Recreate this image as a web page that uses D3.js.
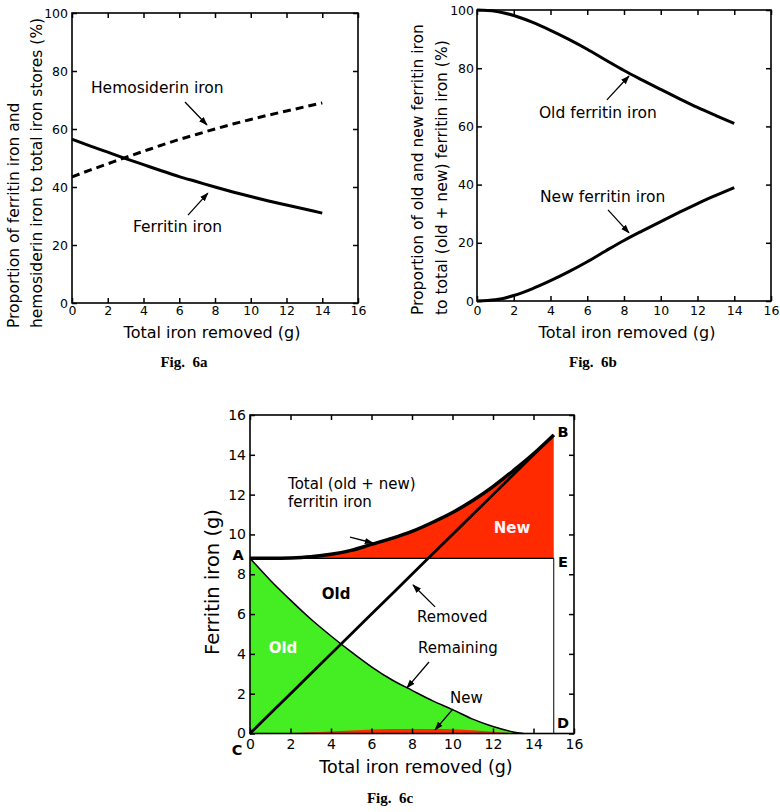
<!DOCTYPE html>
<html>
<head>
<meta charset="utf-8">
<script src="https://cdn.jsdelivr.net/npm/d3@7"></script>
<style>
  html, body { margin: 0; padding: 0; background: #fff; }
  svg { display: block; }
  text { font-family: "DejaVu Sans", Verdana, sans-serif; }
  .fig { font-family: "Liberation Serif", "Times New Roman", serif; font-weight: bold; white-space: pre; }
</style>
</head>
<body>
<svg id="chart" width="780" height="812"></svg>
<script>
// ---------- DATA ----------
// Fig 6a / 6b: x = total iron removed (g)
const removedA = [0, 1, 2, 3, 4, 5, 6, 7, 8, 9, 10, 11, 12, 13, 14];
const ferritinPct = [56.5, 54.2, 52.0, 49.8, 47.7, 45.6, 43.6, 41.8, 40.0, 38.3, 36.7, 35.2, 33.8, 32.4, 31.0];
const hemosiderinPct = [43.5, 45.8, 48.0, 50.2, 52.3, 54.4, 56.4, 58.2, 60.0, 61.7, 63.3, 64.8, 66.2, 67.6, 69.0];
const oldFerritinPct = [100, 99.6, 98.1, 95.8, 93.0, 89.9, 86.5, 82.8, 79.2, 75.9, 72.7, 69.55, 66.5, 63.7, 61.0];
const newFerritinPct = [0, 0.4, 1.9, 4.2, 7.0, 10.1, 13.5, 17.2, 20.8, 24.1, 27.3, 30.45, 33.5, 36.3, 39.0];

// Fig 6c
const removedC = [0, 1, 2, 3, 4, 5, 6, 7, 8, 9, 10, 11, 12, 13, 14, 15];
const totalFerritin = [8.8, 8.8, 8.82, 8.88, 9.0, 9.2, 9.5, 9.8, 10.15, 10.6, 11.1, 11.7, 12.4, 13.2, 14.05, 15.0];
const removedIron = [0, 1, 2, 3, 4, 5, 6, 7, 8, 9, 10, 11, 12, 13, 14, 15];
const remainX = [0, 1, 2, 3, 4, 5, 6, 7, 8, 9, 10, 11, 12, 13, 13.5];
const remainingOld = [8.8, 7.7, 6.7, 5.75, 4.9, 4.1, 3.35, 2.7, 2.17, 1.65, 1.2, 0.72, 0.35, 0.08, 0];
const newX = [0, 1, 2, 3, 4, 5, 6, 7, 8, 9, 10, 11, 12, 13, 14];
const remainingNew = [0, 0, 0.02, 0.06, 0.1, 0.15, 0.2, 0.22, 0.23, 0.23, 0.21, 0.16, 0.09, 0.02, 0];
const pointLabels = ["A", "B", "C", "D", "E"];

// Tick values
const xTickVals = [0, 2, 4, 6, 8, 10, 12, 14, 16];
const pctTickVals = [0, 20, 40, 60, 80, 100];
const gTickVals = [0, 2, 4, 6, 8, 10, 12, 14, 16];

// ---------- DRAW ----------
const svg = d3.select("#chart");
svg.append("rect").attr("width", 780).attr("height", 812).attr("fill", "#fff");

const defs = svg.append("defs");
defs.append("marker").attr("id", "arrow")
  .attr("viewBox", "0 0 10 10").attr("refX", 9).attr("refY", 5)
  .attr("markerWidth", 9).attr("markerHeight", 9).attr("markerUnits", "userSpaceOnUse")
  .attr("orient", "auto")
  .append("path").attr("d", "M0,1.5 L10,5 L0,8.5 Z").attr("fill", "#000");

function frame(g, x, y, opts) {
  const fs = opts.tickFont;
  const axB = d3.axisBottom(x).tickValues(xTickVals).tickSizeInner(-5).tickSizeOuter(0).tickPadding(opts.padX);
  const axL = d3.axisLeft(y).tickValues(opts.yTicks).tickSizeInner(-5).tickSizeOuter(0).tickPadding(opts.padY);
  const axT = d3.axisTop(x).tickValues(xTickVals).tickSizeInner(-5).tickSizeOuter(0).tickFormat("");
  const axR = d3.axisRight(y).tickValues(opts.yTicks).tickSizeInner(-5).tickSizeOuter(0).tickFormat("");
  const [x0, x1] = x.range(); const [y0, y1] = y.range();
  const sets = [
    [axB, `translate(0,${y0})`], [axL, `translate(${x0},0)`],
    [axT, `translate(0,${y1})`], [axR, `translate(${x1},0)`]
  ];
  sets.forEach(([ax, tr]) => {
    const a = g.append("g").attr("transform", tr).call(ax);
    a.select(".domain").remove();
    a.selectAll("line").attr("stroke", "#000").attr("stroke-width", 1.5);
    a.selectAll("text").style("font-family", '"DejaVu Sans", sans-serif').style("font-size", fs + "px").style("fill", "#000");
  });
  g.append("rect").attr("x", x0).attr("y", y1).attr("width", x1 - x0).attr("height", y0 - y1)
    .attr("fill", "none").attr("stroke", "#000").attr("stroke-width", 1.6);
}

function arrow(g, x, y, p0, p1, w) {
  g.append("line")
    .attr("x1", x(p0[0])).attr("y1", y(p0[1]))
    .attr("x2", x(p1[0])).attr("y2", y(p1[1]))
    .attr("stroke", "#000").attr("stroke-width", w || 1.3)
    .attr("marker-end", "url(#arrow)");
}

function label(g, x, y, pos, txt, fs, anchor, extra) {
  const t = g.append("text").attr("x", x(pos[0])).attr("y", y(pos[1]))
    .attr("dominant-baseline", "central")
    .attr("text-anchor", anchor || "start")
    .style("font-size", fs + "px").style("fill", "#000").text(txt);
  if (extra) extra(t);
  return t;
}

// ===== Fig 6a =====
{
  const g = svg.append("g");
  const x = d3.scaleLinear().domain([0, 16]).range([72, 358]);
  const y = d3.scaleLinear().domain([0, 100]).range([303, 13]);
  const ferr = removedA.map((d, i) => [d, ferritinPct[i]]);
  const hemo = removedA.map((d, i) => [d, hemosiderinPct[i]]);
  const line = d3.line().x(d => x(d[0])).y(d => y(d[1])).curve(d3.curveMonotoneX);
  g.append("path").attr("d", line(hemo)).attr("fill", "none").attr("stroke", "#000")
    .attr("stroke-width", 3).attr("stroke-dasharray", "8,5");
  g.append("path").attr("d", line(ferr)).attr("fill", "none").attr("stroke", "#000").attr("stroke-width", 3);
  frame(g, x, y, { yTicks: pctTickVals, tickFont: 12.5, padX: 3, padY: 4 });
  label(g, x, y, [1.06, 74.1], "Hemosiderin iron", 15.5);
  label(g, x, y, [3.41, 26.2], "Ferritin iron", 15.5);
  arrow(g, x, y, [6.32, 69.3], [7.55, 61.4]);
  arrow(g, x, y, [6.49, 30.3], [7.6, 37.9]);
  g.append("text").attr("x", 212).attr("y", 332).attr("text-anchor", "middle").attr("dominant-baseline", "central")
    .style("font-size", "16px").text("Total iron removed (g)");
  const yt = g.append("g").attr("transform", "translate(0,328) rotate(-90)");
  yt.append("text").attr("x", 0).attr("y", 14).attr("dominant-baseline", "central").style("font-size", "15.5px")
    .text("Proportion of ferritin iron and");
  yt.append("text").attr("x", 0).attr("y", 37).attr("dominant-baseline", "central").style("font-size", "15.5px")
    .text("hemosiderin iron to total iron stores (%)");
  g.append("text").attr("class", "fig").attr("x", 184).attr("y", 362).attr("text-anchor", "middle")
    .attr("dominant-baseline", "central").style("font-size", "15px").text("Fig.  6a");
}

// ===== Fig 6b =====
{
  const g = svg.append("g");
  const x = d3.scaleLinear().domain([0, 16]).range([477, 771]);
  const y = d3.scaleLinear().domain([0, 100]).range([301, 10]);
  const oldL = removedA.map((d, i) => [d, oldFerritinPct[i]]);
  const newL = removedA.map((d, i) => [d, newFerritinPct[i]]);
  const line = d3.line().x(d => x(d[0])).y(d => y(d[1])).curve(d3.curveMonotoneX);
  g.append("path").attr("d", line(oldL)).attr("fill", "none").attr("stroke", "#000").attr("stroke-width", 3);
  g.append("path").attr("d", line(newL)).attr("fill", "none").attr("stroke", "#000").attr("stroke-width", 3);
  frame(g, x, y, { yTicks: pctTickVals, tickFont: 12.5, padX: 5, padY: 3 });
  label(g, x, y, [3.37, 64.6], "Old ferritin iron", 15.5);
  label(g, x, y, [3.43, 35.7], "New ferritin iron", 15.5);
  arrow(g, x, y, [7.07, 69.1], [8.27, 77.3]);
  arrow(g, x, y, [7.13, 31.3], [8.27, 23.4]);
  g.append("text").attr("x", 627).attr("y", 332).attr("text-anchor", "middle").attr("dominant-baseline", "central")
    .style("font-size", "16px").text("Total iron removed (g)");
  const yt = g.append("g").attr("transform", "translate(0,315) rotate(-90)");
  yt.append("text").attr("x", 0).attr("y", 418).attr("dominant-baseline", "central").style("font-size", "15.5px")
    .text("Proportion of old and new ferritin iron");
  yt.append("text").attr("x", 0).attr("y", 442).attr("dominant-baseline", "central").style("font-size", "15.5px")
    .text("to total (old + new) ferritin iron (%)");
  g.append("text").attr("class", "fig").attr("x", 593).attr("y", 362).attr("text-anchor", "middle")
    .attr("dominant-baseline", "central").style("font-size", "15px").text("Fig.  6b");
}

// ===== Fig 6c =====
{
  const g = svg.append("g");
  const x = d3.scaleLinear().domain([0, 16]).range([250, 574]);
  const y = d3.scaleLinear().domain([0, 16]).range([733.5, 415]);
  const base = totalFerritin[0];
  const xEnd = removedC[removedC.length - 1];
  const tot = removedC.map((d, i) => [d, totalFerritin[i]]);
  const rem = remainX.map((d, i) => [d, remainingOld[i]]);
  const nw = newX.map((d, i) => [d, remainingNew[i]]);
  const rmv = removedC.map((d, i) => [d, removedIron[i]]);
  const curve = d3.curveMonotoneX;

  // red "New" area above A-E
  g.append("path").attr("d", d3.area().x(d => x(d[0])).y0(y(base)).y1(d => y(d[1])).curve(curve)(tot))
    .attr("fill", "#ff2a00");
  // green "Old" remaining area
  g.append("path").attr("d", d3.area().x(d => x(d[0])).y0(y(0)).y1(d => y(d[1])).curve(curve)(rem))
    .attr("fill", "#44ee22");
  // red "New" remaining area
  g.append("path").attr("d", d3.area().x(d => x(d[0])).y0(y(0)).y1(d => y(d[1])).curve(curve)(nw))
    .attr("fill", "#ff2a00");

  // A-E line and E-D line
  g.append("line").attr("x1", x(0)).attr("x2", x(xEnd)).attr("y1", y(base)).attr("y2", y(base))
    .attr("stroke", "#000").attr("stroke-width", 1.2);
  g.append("line").attr("x1", x(xEnd)).attr("x2", x(xEnd)).attr("y1", y(0)).attr("y2", y(base))
    .attr("stroke", "#000").attr("stroke-width", 1);

  const line = d3.line().x(d => x(d[0])).y(d => y(d[1])).curve(curve);
  g.append("path").attr("d", line(rem)).attr("fill", "none").attr("stroke", "#000").attr("stroke-width", 1.5);
  g.append("path").attr("d", d3.line().x(d => x(d[0])).y(d => y(d[1]))(rmv)).attr("fill", "none")
    .attr("stroke", "#000").attr("stroke-width", 2.8);
  g.append("path").attr("d", line(tot)).attr("fill", "none").attr("stroke", "#000").attr("stroke-width", 3.5);

  frame(g, x, y, { yTicks: gTickVals, tickFont: 14, padX: 6, padY: 4 });

  // annotations
  label(g, x, y, [1.88, 12.54], "Total (old + new)", 15);
  label(g, x, y, [1.88, 11.63], "ferritin iron", 15);
  arrow(g, x, y, [4.94, 9.87], [6.07, 9.57]);
  label(g, x, y, [12.94, 10.33], "New", 15, "middle", t => t.style("font-weight", "bold").style("fill", "#fff4f8"));
  label(g, x, y, [4.25, 7.01], "Old", 15, "middle", t => t.style("font-weight", "bold"));
  label(g, x, y, [1.63, 4.3], "Old", 15, "middle", t => t.style("font-weight", "bold").style("fill", "#fff"));
  label(g, x, y, [8.25, 5.85], "Removed", 15);
  arrow(g, x, y, [9.14, 6.36], [8.05, 7.46]);
  label(g, x, y, [8.3, 4.3], "Remaining", 15);
  arrow(g, x, y, [8.84, 3.59], [7.75, 2.29]);
  label(g, x, y, [9.88, 1.78], "New", 15);
  arrow(g, x, y, [10.02, 1.23], [9.14, 0.18]);

  const letterPos = [[-0.59, 8.95], [15.46, 15.15], [-0.64, -0.83], [15.46, 0.53], [15.46, 8.62]];
  pointLabels.forEach((L, i) => {
    label(g, x, y, letterPos[i], L, 14.5, "middle", t => t.style("font-weight", "bold"));
  });

  g.append("text").attr("x", 416).attr("y", 767).attr("text-anchor", "middle").attr("dominant-baseline", "central")
    .style("font-size", "17.5px").text("Total iron removed (g)");
  g.append("text").attr("transform", "translate(212,582) rotate(-90)").attr("text-anchor", "middle")
    .attr("dominant-baseline", "central").style("font-size", "19.5px").text("Ferritin iron (g)");
  g.append("text").attr("class", "fig").attr("x", 390).attr("y", 798).attr("text-anchor", "middle")
    .attr("dominant-baseline", "central").style("font-size", "15px").text("Fig.  6c");
}
</script>
</body>
</html>
